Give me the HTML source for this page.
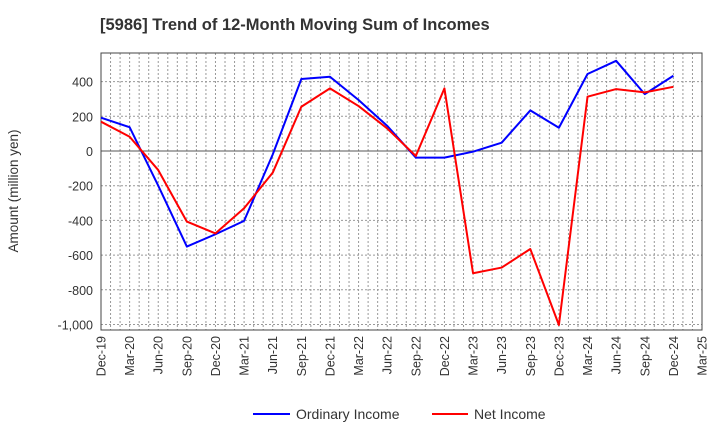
<!DOCTYPE html>
<html><head><meta charset="utf-8"><style>
body{margin:0;background:#fff;font-family:"Liberation Sans",Arial,sans-serif}
svg text{font-family:"Liberation Sans",Arial,sans-serif}
</style></head><body>
<svg id="chart" width="720" height="440" xmlns="http://www.w3.org/2000/svg">
<text x="100" y="30" font-size="16.5" font-weight="bold" fill="#333">[5986]  Trend of 12-Month Moving Sum of Incomes</text>
<g id="grid"></g>
<g id="axes"></g>
<g id="series"></g>
<text transform="translate(18,191) rotate(-90)" text-anchor="middle" font-size="13.5" fill="#333">Amount (million yen)</text>
<g>
<line x1="253" y1="414" x2="290" y2="414" stroke="#0000ff" stroke-width="2"/>
<text x="296" y="419" font-size="14" fill="#333">Ordinary Income</text>
<line x1="432" y1="414" x2="468" y2="414" stroke="#ff0000" stroke-width="2"/>
<text x="474" y="419" font-size="14" fill="#333">Net Income</text>
</g>
</svg>
<script>
const categories=["Dec-19","Mar-20","Jun-20","Sep-20","Dec-20","Mar-21","Jun-21","Sep-21","Dec-21","Mar-22","Jun-22","Sep-22","Dec-22","Mar-23","Jun-23","Sep-23","Dec-23","Mar-24","Jun-24","Sep-24","Dec-24","Mar-25"];
const ordinaryIncome=[192,137,-200,-551,-480,-403,-20,415,428,294,145,-38,-38,-4,48,234,134,444,520,328,434];
const netIncome=[169,82,-110,-407,-475,-330,-125,255,361,259,130,-29,361,-705,-672,-565,-1003,313,357,338,370];
const yTicks=[400,200,0,-200,-400,-600,-800,-1000];
const yTickLabels=["400","200","0","-200","-400","-600","-800","-1,000"];
const L=101,R=702,T=53,B=330,yMax=565,yMin=-1032;
const NS="http://www.w3.org/2000/svg";
const xS=i=>L+(R-L)*i/(categories.length-1);
const yS=v=>T+(yMax-v)/(yMax-yMin)*(B-T);
function mk(tag,attrs,parent){const e=document.createElementNS(NS,tag);for(const k in attrs)e.setAttribute(k,attrs[k]);parent.appendChild(e);return e;}
const grid=document.getElementById('grid'),axes=document.getElementById('axes'),series=document.getElementById('series');
for(let m=1;m<(categories.length-1)*3;m++){
 const x=L+(R-L)*m/((categories.length-1)*3);
 const g=mk('line',{x1:x,x2:x,y1:T,y2:B,stroke:'#999','stroke-width':1,'stroke-dasharray':'2,2'},grid);
 
 
}
yTicks.forEach((v,i)=>{
 const y=yS(v);
 const g=mk('line',{x1:L,x2:R,y1:y,y2:y,stroke:v===0?'#555':'#999','stroke-width':1,'stroke-dasharray':v===0?'':'2,2'},grid);
 
 
 const t=mk('text',{x:L-8,y:y+5,'text-anchor':'end','font-size':12.5,fill:'#333'},axes);
 t.textContent=yTickLabels[i];
 
 
});
const fr=mk('rect',{x:L,y:T,width:R-L,height:B-T,fill:'none',stroke:'#444','stroke-width':1},axes);


categories.forEach((c,i)=>{
 const x=xS(i);
 const t=mk('text',{transform:`translate(${x+4.5},${B+6}) rotate(-90)`,'text-anchor':'end','font-size':12.5,fill:'#333'},axes);
 t.textContent=c;
 
 
});
function line(data,color,name){
 const p=mk('polyline',{points:data.map((v,i)=>xS(i)+','+yS(v)).join(' '),fill:'none',stroke:color,'stroke-width':2,'stroke-linejoin':'round'},series);
 
 
}
line(ordinaryIncome,'#0000ff','ordinary-income-line');
line(netIncome,'#ff0000','net-income-line');
</script>
</body></html>
